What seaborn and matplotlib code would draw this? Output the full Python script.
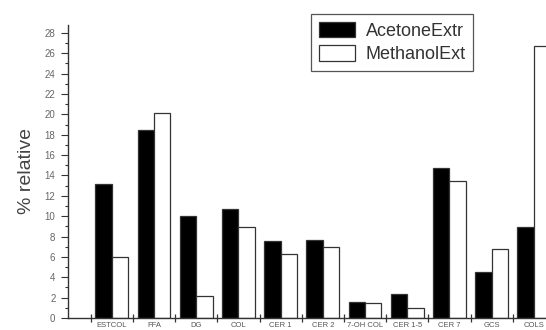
import matplotlib
matplotlib.use("Agg")
import matplotlib.pyplot as plt
import seaborn as sns
import pandas as pd
import numpy as np
from matplotlib.ticker import MultipleLocator, FixedLocator

categories = ["ESTCOL", "FFA", "DG", "COL", "CER 1", "CER 2", "7-OH COL",
              "CER 1-5", "CER 7", "GCS", "COLS"]
acetone = [13.2, 18.5, 10.0, 10.7, 7.6, 7.7, 1.6, 2.4, 14.7, 4.5, 8.9]
methanol = [6.0, 20.1, 2.2, 8.9, 6.3, 7.0, 1.45, 0.95, 13.5, 6.8, 26.7]
series = ["AcetoneExtr", "MethanolExt"]

df = pd.DataFrame({
    "cat": categories * 2,
    "val": acetone + methanol,
    "series": [series[0]] * len(categories) + [series[1]] * len(categories),
})

sns.set_theme(style="white")
plt.rcParams["font.family"] = ["Liberation Sans", "DejaVu Sans"]

fig = plt.figure(figsize=(5.46, 3.30), dpi=100)
W, H = 546, 330
left, right, bottom, top = 68, 546, 318, 25
ax = fig.add_axes([left / W, (H - bottom) / H, (right - left) / W, (bottom - top) / H])

sns.barplot(data=df, x="cat", y="val", hue="series", order=categories,
            hue_order=series, palette=["black", "white"], width=0.78,
            edgecolor="#333333", linewidth=0.9, ax=ax, saturation=1)

x0 = (left - 111.8) / 42.2
x1 = (right - 111.8) / 42.2
ax.set_xlim(x0, x1)
ax.set_ylim(0, (bottom - top) / 10.18)

for s in ["top", "right"]:
    ax.spines[s].set_visible(False)
for s in ["left", "bottom"]:
    ax.spines[s].set_color("#333333")
    ax.spines[s].set_linewidth(1.0)

ax.yaxis.set_major_locator(MultipleLocator(2))
ax.yaxis.set_minor_locator(MultipleLocator(1))
ax.tick_params(axis="y", which="major", direction="out", length=5, width=0.8,
               color="#333333", labelsize=7, labelcolor="#666666", left=True, pad=4)
ax.tick_params(axis="y", which="minor", direction="out", length=2.5, width=0.8,
               color="#333333", left=True)

ax.set_xticks(range(len(categories)))
ax.set_xticklabels(categories)
ax.xaxis.set_minor_locator(FixedLocator(np.arange(-0.5, len(categories) - 0.5, 1.0)))
ax.tick_params(axis="x", which="major", length=0, labelsize=5.5,
               labelcolor="#555555", pad=3)
ax.tick_params(axis="x", which="minor", direction="inout", length=6, width=0.9,
               color="#333333", bottom=True)

ax.set_xlabel("")
ax.set_ylabel("% relative", fontsize=14, color="#444444", labelpad=7)

leg = ax.legend(title=None, loc="upper left",
                bbox_to_anchor=((311 - left) / (right - left), 1 + (top - 14) / (bottom - top)),
                fontsize=13, frameon=True, fancybox=False, framealpha=1,
                handlelength=2.0, handleheight=0.95, borderpad=0.42,
                labelspacing=0.32, handletextpad=0.6, borderaxespad=0)
leg.get_frame().set_edgecolor("#555555")
leg.get_frame().set_linewidth(0.9)
for t in leg.get_texts():
    t.set_color("#333333")

fig.savefig("out.png", dpi=100)
